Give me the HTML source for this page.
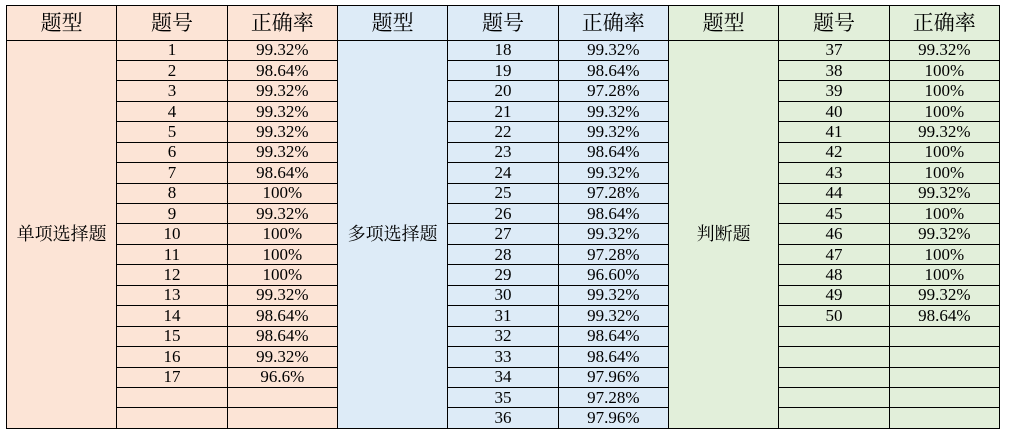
<!DOCTYPE html>
<html><head><meta charset="utf-8"><style>
html,body{margin:0;padding:0;background:#fff;width:1009px;height:435px;overflow:hidden}
table{position:absolute;left:6px;top:5px;width:993px;border-collapse:collapse;table-layout:fixed;font-family:"Liberation Serif","Noto Serif CJK SC",serif;font-size:17px;color:#000}
td{border:1.5px solid #000;padding:0;text-align:center;line-height:18px;height:19.45px;overflow:hidden;white-space:nowrap}
tr.h td{height:33.5px;font-size:21px;font-family:"Liberation Serif","Noto Serif CJK SC",serif}
.a{background:#fce4d6}.b{background:#ddebf7}.c{background:#e2efda}
td.t{font-size:18px}
</style></head><body>
<table>
<colgroup><col span="9" style="width:110.33px"></colgroup>
<tr class="h"><td class="a">题型</td><td class="a">题号</td><td class="a">正确率</td><td class="b">题型</td><td class="b">题号</td><td class="b">正确率</td><td class="c">题型</td><td class="c">题号</td><td class="c">正确率</td></tr>
<tr><td class="a t" rowspan="19">单项选择题</td><td class="a">1</td><td class="a">99.32%</td><td class="b t" rowspan="19">多项选择题</td><td class="b">18</td><td class="b">99.32%</td><td class="c t" rowspan="19">判断题</td><td class="c">37</td><td class="c">99.32%</td></tr>
<tr><td class="a">2</td><td class="a">98.64%</td><td class="b">19</td><td class="b">98.64%</td><td class="c">38</td><td class="c">100%</td></tr>
<tr><td class="a">3</td><td class="a">99.32%</td><td class="b">20</td><td class="b">97.28%</td><td class="c">39</td><td class="c">100%</td></tr>
<tr><td class="a">4</td><td class="a">99.32%</td><td class="b">21</td><td class="b">99.32%</td><td class="c">40</td><td class="c">100%</td></tr>
<tr><td class="a">5</td><td class="a">99.32%</td><td class="b">22</td><td class="b">99.32%</td><td class="c">41</td><td class="c">99.32%</td></tr>
<tr><td class="a">6</td><td class="a">99.32%</td><td class="b">23</td><td class="b">98.64%</td><td class="c">42</td><td class="c">100%</td></tr>
<tr><td class="a">7</td><td class="a">98.64%</td><td class="b">24</td><td class="b">99.32%</td><td class="c">43</td><td class="c">100%</td></tr>
<tr><td class="a">8</td><td class="a">100%</td><td class="b">25</td><td class="b">97.28%</td><td class="c">44</td><td class="c">99.32%</td></tr>
<tr><td class="a">9</td><td class="a">99.32%</td><td class="b">26</td><td class="b">98.64%</td><td class="c">45</td><td class="c">100%</td></tr>
<tr><td class="a">10</td><td class="a">100%</td><td class="b">27</td><td class="b">99.32%</td><td class="c">46</td><td class="c">99.32%</td></tr>
<tr><td class="a">11</td><td class="a">100%</td><td class="b">28</td><td class="b">97.28%</td><td class="c">47</td><td class="c">100%</td></tr>
<tr><td class="a">12</td><td class="a">100%</td><td class="b">29</td><td class="b">96.60%</td><td class="c">48</td><td class="c">100%</td></tr>
<tr><td class="a">13</td><td class="a">99.32%</td><td class="b">30</td><td class="b">99.32%</td><td class="c">49</td><td class="c">99.32%</td></tr>
<tr><td class="a">14</td><td class="a">98.64%</td><td class="b">31</td><td class="b">99.32%</td><td class="c">50</td><td class="c">98.64%</td></tr>
<tr><td class="a">15</td><td class="a">98.64%</td><td class="b">32</td><td class="b">98.64%</td><td class="c"></td><td class="c"></td></tr>
<tr><td class="a">16</td><td class="a">99.32%</td><td class="b">33</td><td class="b">98.64%</td><td class="c"></td><td class="c"></td></tr>
<tr><td class="a">17</td><td class="a">96.6%</td><td class="b">34</td><td class="b">97.96%</td><td class="c"></td><td class="c"></td></tr>
<tr><td class="a"></td><td class="a"></td><td class="b">35</td><td class="b">97.28%</td><td class="c"></td><td class="c"></td></tr>
<tr><td class="a"></td><td class="a"></td><td class="b">36</td><td class="b">97.96%</td><td class="c"></td><td class="c"></td></tr>
</table>
</body></html>
